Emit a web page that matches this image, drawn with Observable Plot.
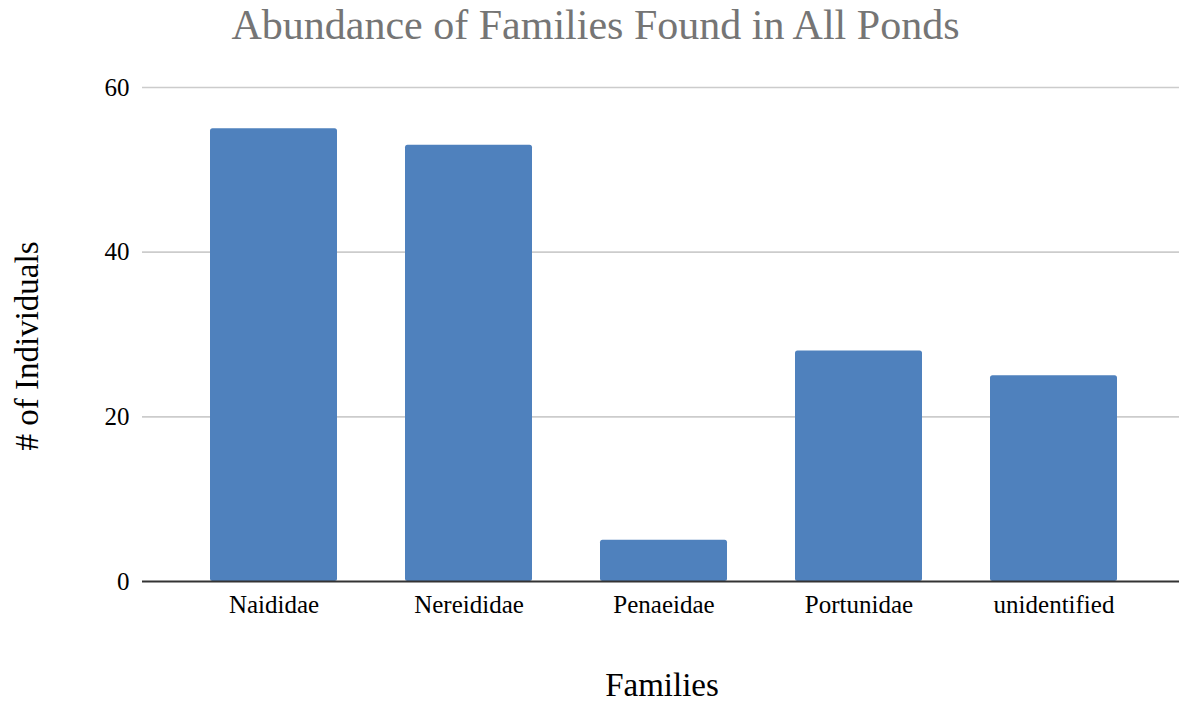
<!DOCTYPE html>
<html>
<head>
<meta charset="utf-8">
<script src="https://cdn.jsdelivr.net/npm/d3@7"></script>
<script src="https://cdn.jsdelivr.net/npm/@observablehq/plot@0.6"></script>
<style>
  html, body { margin: 0; padding: 0; background: #fff; }
  #wrap { position: relative; width: 1179px; height: 702px; font-family: "Liberation Serif", "Times New Roman", serif; }
  #title { height: 45px; padding-top: 5px; font-size: 42px; line-height: 41px; color: #757575; text-align: center; padding-left: 12px; box-sizing: content-box; white-space: nowrap; }
  #ylabel { position: absolute; left: 27px; top: 346px; font-size: 33px; line-height: 33px; color: #000; transform: translate(-50%, -50%) rotate(-90deg); white-space: nowrap; }
  #xlabel { position: absolute; left: 662px; top: 669px; font-size: 33px; line-height: 33px; color: #000; transform: translateX(-50%); white-space: nowrap; }
  #chart svg { display: block; }
</style>
</head>
<body>
<div id="wrap">
  <div id="title">Abundance of Families Found in All Ponds</div>
  <div id="chart"></div>
  <div id="ylabel"># of Individuals</div>
  <div id="xlabel">Families</div>
</div>
<script>
const families = ["Naididae", "Nereididae", "Penaeidae", "Portunidae", "unidentified"];
const counts = [55, 53, 5, 28, 25];
const yTicks = [0, 20, 40, 60];
const gridTicks = [20, 40, 60];

const data = families.map((f, i) => ({family: f, count: counts[i]}));

const chart = Plot.plot({
  width: 1179,
  height: 652,
  marginLeft: 142,
  marginRight: 0,
  marginTop: 37,
  marginBottom: 121,
  style: {fontFamily: "'Liberation Serif', 'Times New Roman', serif", fontSize: "25px", color: "#000", background: "#fff", overflow: "visible"},
  x: {
    domain: families,
    paddingInner: 0.347,
    paddingOuter: 0.329,
    align: 0.525,
    tickSize: 0,
    tickPadding: 14,
    label: null
  },
  y: {
    domain: [0, 60],
    ticks: yTicks,
    tickSize: 0,
    tickPadding: 13,
    label: null
  },
  marks: [
    Plot.ruleY(gridTicks, {stroke: "#cccccc", strokeWidth: 1.6}),
    Plot.barY(data, {x: "family", y: "count", fill: "#4F81BD", rx: 2.5}),
    Plot.ruleY([0], {stroke: "#333333", strokeWidth: 1.8})
  ]
});
document.getElementById("chart").appendChild(chart);
</script>
</body>
</html>
